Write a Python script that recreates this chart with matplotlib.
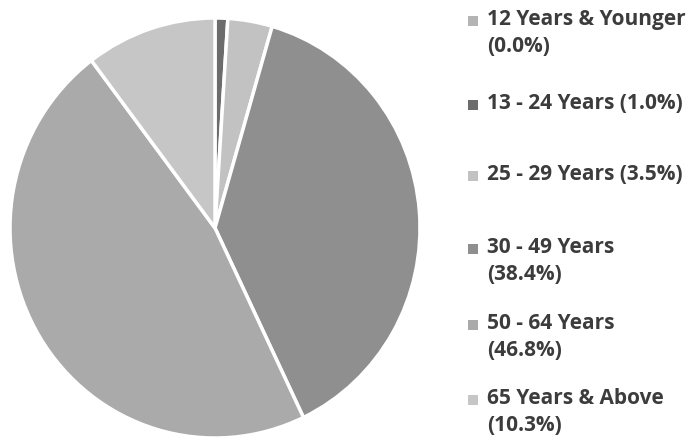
import matplotlib.pyplot as plt
from matplotlib.patches import Rectangle

# age groups and share of people (%)
labels = ["12 Years & Younger\n(0.0%)", "13 - 24 Years (1.0%)", "25 - 29 Years (3.5%)",
          "30 - 49 Years\n(38.4%)", "50 - 64 Years\n(46.8%)", "65 Years & Above\n(10.3%)"]
shares = [0.0, 1.0, 3.5, 38.4, 46.8, 10.3]
colors = ["#b4b4b4", "#6c6c6c", "#c2c2c2", "#8f8f8f", "#aaaaaa", "#c6c6c6"]

plt.rcParams['font.family'] = ['Open Sans', 'DejaVu Sans']

W, H = 694, 440
fig = plt.figure(figsize=(W / 100, H / 100), dpi=100)
# pie box in pixels: centre and radii
cx, cy, rx, ry = 215, 228, 205, 210
ax = fig.add_axes([(cx - rx) / W, 1 - (cy + ry) / H, 2 * rx / W, 2 * ry / H])
ax.pie(shares, colors=colors, startangle=90, counterclock=False,
       wedgeprops=dict(edgecolor="white", linewidth=2.5))
ax.set_aspect("auto")
ax.set_xlim(-1.0, 1.0)
ax.set_ylim(-1.0, 1.0)

# legend drawn by hand to keep the uneven Excel spacing
first_line_y = [21, 105, 176, 249, 325, 400]
for lab, col, y in zip(labels, colors, first_line_y):
    yf = 1 - y / H
    fig.patches.append(Rectangle((468 / W, yf - 5 / H), 10 / W, 10 / H,
                                 transform=fig.transFigure, facecolor=col,
                                 edgecolor="none",
                                 hatch="xxxx" if lab.startswith("12") else None))
    fig.text(487 / W, yf + 12 / H, lab, ha="left", va="top", fontsize=15,
             fontweight="bold", color="#3c3c3c", linespacing=1.35)

plt.savefig("out.png", dpi=100)
